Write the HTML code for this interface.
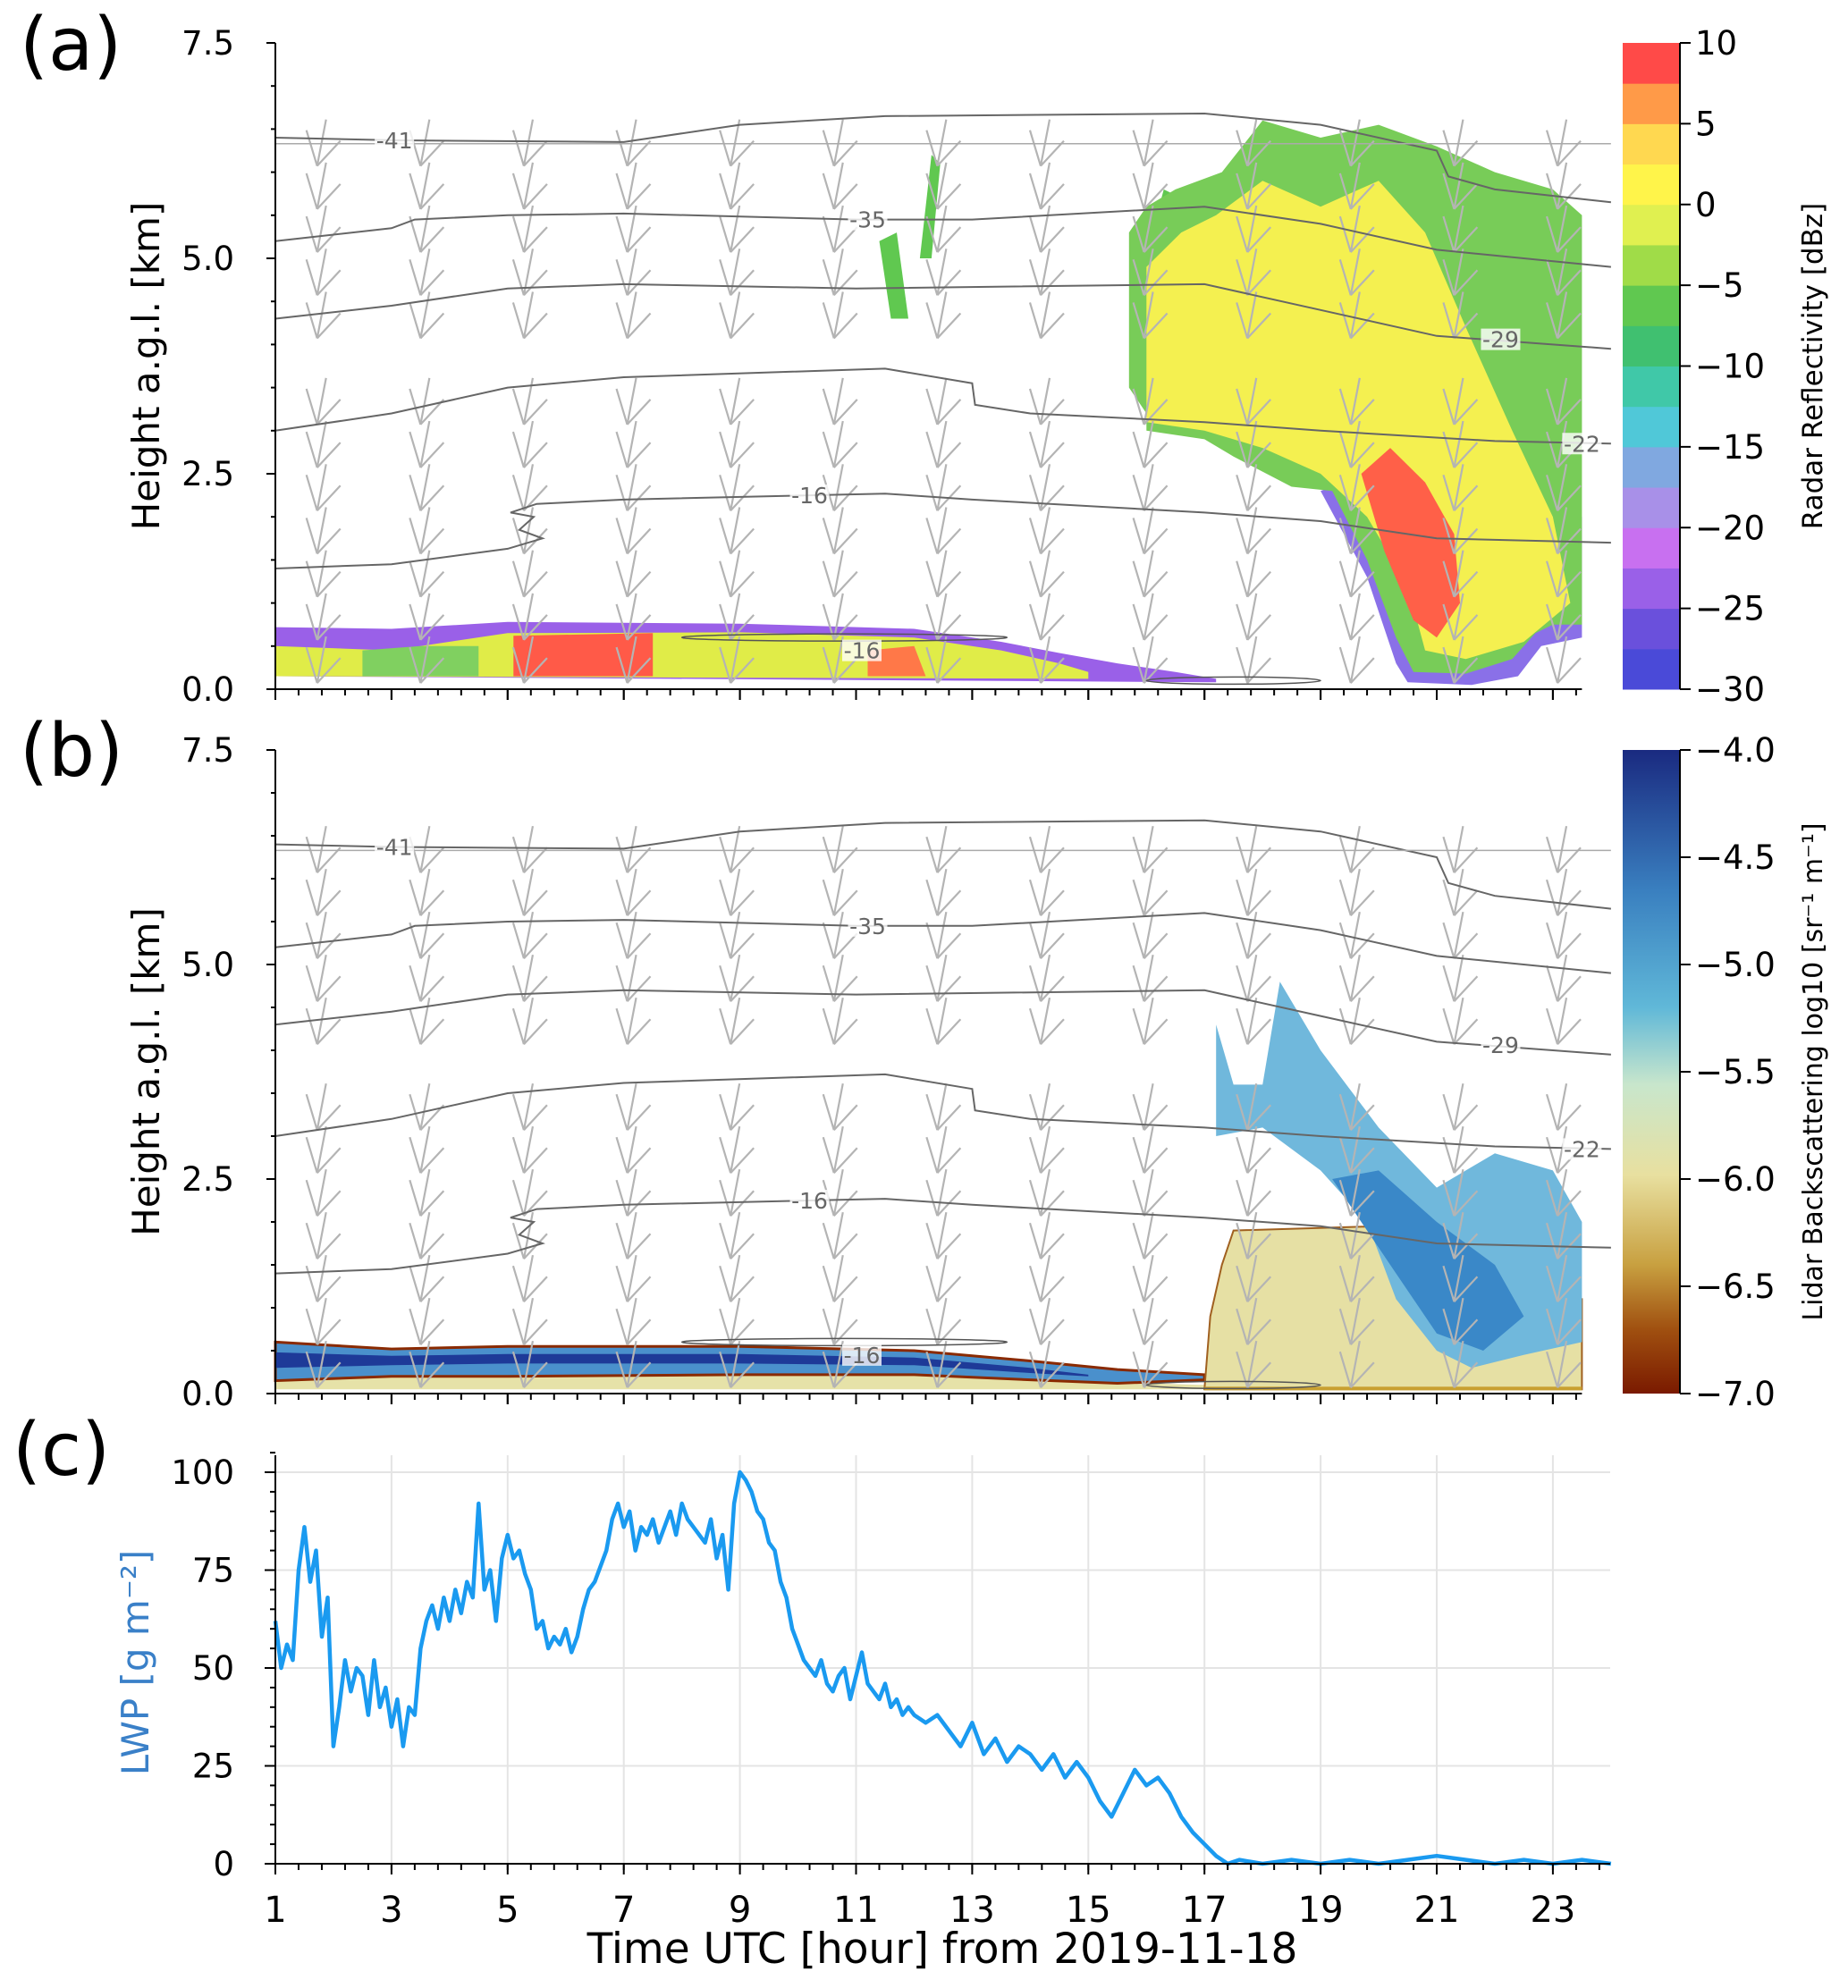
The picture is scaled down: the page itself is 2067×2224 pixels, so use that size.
<!DOCTYPE html>
<html><head><meta charset="utf-8"><style>
html,body{margin:0;padding:0;background:#fff}
svg{display:block}
text{font-family:"DejaVu Sans","Liberation Sans",sans-serif}
</style></head><body>
<svg id="fig" width="2067" height="2224" viewBox="0 0 2067 2224" xmlns="http://www.w3.org/2000/svg">
<g id="root"></g>
</svg>
<script>
// ---------- data arrays ----------
const hourTicks=[1,3,5,7,9,11,13,15,17,19,21,23];
const heightTicks=[0,2.5,5,7.5];
const dbzTicks=[10,5,0,-5,-10,-15,-20,-25,-30];
const lidarTicks=[-4.0,-4.5,-5.0,-5.5,-6.0,-6.5,-7.0];
const lwpTicks=[0,25,50,75,100];
const dbzBandColors=['#4a4ad8','#6a50dc','#9a60e8','#c870f0','#a890e8','#80a8e0','#50c8d8','#40c8a8','#40c070','#60c850','#a0dc48','#e0f050','#fff44a','#ffd850','#ff9a48','#ff4a48'];
const lwpHours=[1.0,1.1,1.2,1.3,1.4,1.5,1.6,1.7,1.8,1.9,2.0,2.1,2.2,2.3,2.4,2.5,2.6,2.7,2.8,2.9,3.0,3.1,3.2,3.3,3.4,3.5,3.6,3.7,3.8,3.9,4.0,4.1,4.2,4.3,4.4,4.5,4.6,4.7,4.8,4.9,5.0,5.1,5.2,5.3,5.4,5.5,5.6,5.7,5.8,5.9,6.0,6.1,6.2,6.3,6.4,6.5,6.6,6.7,6.8,6.9,7.0,7.1,7.2,7.3,7.4,7.5,7.6,7.7,7.8,7.9,8.0,8.1,8.2,8.3,8.4,8.5,8.6,8.7,8.8,8.9,9.0,9.1,9.2,9.3,9.4,9.5,9.6,9.7,9.8,9.9,10.0,10.1,10.2,10.3,10.4,10.5,10.6,10.7,10.8,10.9,11.0,11.1,11.2,11.3,11.4,11.5,11.6,11.7,11.8,11.9,12.0,12.2,12.4,12.6,12.8,13.0,13.2,13.4,13.6,13.8,14.0,14.2,14.4,14.6,14.8,15.0,15.2,15.4,15.6,15.8,16.0,16.2,16.4,16.6,16.8,17.0,17.2,17.4,17.6,18.0,18.5,19.0,19.5,20.0,20.5,21.0,21.5,22.0,22.5,23.0,23.5,24.0];
const lwpValues=[62,50,56,52,75,86,72,80,58,68,30,40,52,44,50,48,38,52,40,45,35,42,30,40,38,55,62,66,60,68,62,70,64,72,68,92,70,75,62,78,84,78,80,74,70,60,62,55,58,56,60,54,58,65,70,72,76,80,88,92,86,90,80,86,84,88,82,86,90,84,92,88,86,84,82,88,78,84,70,92,100,98,95,90,88,82,80,72,68,60,56,52,50,48,52,46,44,48,50,42,48,54,46,44,42,46,40,42,38,40,38,36,38,34,30,36,28,32,26,30,28,24,28,22,26,22,16,12,18,24,20,22,18,12,8,5,2,0,1,0,1,0,1,0,1,2,1,0,1,0,1,0];
// isotherm contours (hour, km)
const iso41=[[1,6.4],[3,6.37],[7,6.35],[9,6.55],[11.5,6.65],[17,6.68],[19,6.55],[21,6.25],[21.2,5.95],[22,5.8],[24,5.65]];
const iso35=[[1,5.2],[3,5.35],[3.4,5.45],[5,5.5],[7,5.52],[11,5.45],[13,5.45],[17,5.6],[19,5.4],[21,5.1],[24,4.9]];
const iso29=[[1,4.3],[3,4.45],[5,4.65],[7,4.7],[11,4.65],[17,4.7],[19,4.4],[21,4.1],[24,3.95]];
const iso22=[[1,3.0],[3,3.2],[5,3.5],[7,3.62],[11.5,3.72],[13,3.55],[13.05,3.3],[14,3.2],[17,3.1],[19,3.0],[22,2.88],[24,2.85]];
const iso16=[[1,1.4],[3,1.45],[5,1.63],[5.6,1.75],[5.2,1.85],[5.45,2.0],[5.05,2.05],[5.5,2.15],[7,2.2],[11.5,2.27],[13,2.2],[17,2.05],[19,1.95],[21,1.75],[24,1.7]];
// radar reflectivity regions (hour, km)
const radarLowFringe=[[1,0.15],[1,0.72],[3,0.7],[5,0.78],[9,0.76],[12,0.7],[13.5,0.55],[14.5,0.42],[15.5,0.3],[16.5,0.2],[17.2,0.12],[17.2,0.08]];
const radarLowYellow=[[1,0.15],[1,0.5],[3,0.45],[5,0.65],[9,0.66],[12,0.6],[13.5,0.45],[14.5,0.3],[15,0.2],[15,0.12]];
const radarLowGreen=[[2.5,0.15],[2.5,0.45],[3.5,0.5],[4.5,0.5],[4.5,0.15]];
const radarLowRed1=[[5.1,0.15],[5.1,0.62],[7.5,0.65],[7.5,0.15]];
const radarLowRed2=[[11.2,0.15],[11.2,0.45],[12,0.5],[12.2,0.15]];
const radarStormFringe=[[19,2.3],[19.8,1.3],[20.3,0.3],[20.5,0.08],[21.6,0.05],[22.4,0.15],[22.8,0.5],[23.5,0.6],[23.5,2],[21,2.8]];
const radarStormGreen=[[15.7,3.5],[15.7,5.3],[16,5.6],[16.5,5.8],[17.3,6.0],[18,6.6],[19,6.4],[20,6.55],[21,6.3],[22,6.0],[23,5.8],[23.5,5.5],[23.5,0.75],[23,0.75],[22.7,0.65],[22.3,0.35],[21.5,0.18],[20.6,0.2],[20.3,0.6],[19.8,1.5],[19.2,2.3],[18.5,2.35],[17.5,2.7],[17,2.9],[16,3.0],[16,3.2]];
const radarStormYellow=[[16.0,3.1],[16.0,4.9],[16.6,5.3],[17.2,5.5],[18,5.9],[19,5.6],[20,5.9],[20.8,5.3],[21.5,4.2],[22.3,3.0],[23,2.0],[23.3,1.0],[22.5,0.55],[21.5,0.35],[20.8,0.45],[20.5,1.2],[19.8,2.0],[19,2.5],[18,2.8],[17,3.0]];
const radarStormRed=[[19.7,2.5],[20.2,2.8],[20.8,2.4],[21.3,1.8],[21.4,1.0],[21.0,0.6],[20.6,0.8],[20.1,1.6]];
const radarStreaks=[[[11.6,4.3],[11.4,5.2],[11.7,5.3],[11.9,4.3]],[[12.1,5.0],[12.3,6.2],[12.45,6.1],[12.3,5.0]],[[15.9,4.8],[16.3,5.8],[16.6,5.7],[16.2,4.8]]];
// lidar regions
const lidarBase=[[1,0.05],[1,0.28],[8,0.25],[14,0.2],[16,0.12],[17,0.1],[17,0.05]];
const lidarBand=[[1,0.15],[1,0.6],[3,0.52],[5,0.55],[9,0.55],[12,0.5],[14,0.38],[15.5,0.28],[17,0.22],[17,0.16],[15.5,0.12],[14,0.16],[12,0.22],[9,0.22],[5,0.2],[3,0.2]];
const lidarBandDark=[[1,0.3],[1,0.48],[3,0.44],[5,0.46],[9,0.46],[12,0.42],[14,0.3],[15,0.22],[15,0.2],[14,0.24],[12,0.33],[9,0.35],[5,0.35],[3,0.33]];
const lidarBlock=[[17,0.05],[17.1,0.9],[17.3,1.5],[17.5,1.9],[20,1.95],[20.3,1.3],[21,1.1],[23.5,1.1],[23.5,0.05]];
const lidarPlume=[[17.2,3.0],[17.2,4.3],[17.5,3.6],[18,3.6],[18.3,4.8],[19,4.0],[20,3.1],[21,2.4],[22,2.8],[23,2.6],[23.5,2.0],[23.5,0.6],[22.5,0.45],[21.6,0.3],[21,0.5],[20.3,1.1],[19.8,2.0],[19,2.6],[18,3.1]];
const lidarCore=[[19.2,2.5],[20,2.6],[21,2.0],[22,1.5],[22.5,0.9],[21.8,0.5],[21,0.7],[20.3,1.4],[19.6,2.1]];
// wind barbs
const barbHours=[1.75,3.53,5.31,7.09,8.87,10.65,12.43,14.21,15.99,17.77,19.55,21.33,23.11];
const barbHeights=[0.3,0.8,1.3,1.8,2.3,2.8,3.3,4.3,4.8,5.3,5.8,6.3];

// ---------- helpers ----------
const NS='http://www.w3.org/2000/svg';
const root=document.getElementById('root');
function mk(tag,attrs,parent){const e=document.createElementNS(NS,tag);for(const k in attrs)e.setAttribute(k,attrs[k]);(parent||root).appendChild(e);return e;}
const X0=308,PXH=64.95;
function xh(h){return X0+(h-1)*PXH;}
function panel(top,bottom){return function(km){return bottom-(km/7.5)*(bottom-top);};}
const yA=panel(48,771), yB=panel(839,1559);
const yC=function(v){return 2085-v*4.38;};
function poly(pts,yf){return pts.map(p=>xh(p[0]).toFixed(1)+','+yf(p[1]).toFixed(1)).join(' ');}

function drawHeightAxis(g,yf,top,bottom){
  mk('line',{x1:X0,y1:top,x2:X0,y2:bottom,stroke:'#000','stroke-width':2},g);
  mk('line',{x1:X0,y1:bottom,x2:xh(23.5),y2:bottom,stroke:'#000','stroke-width':2},g);
  for(let k=0;k<=15;k++){const v=k*0.5;const y=yf(v);const maj=(k%5===0);
    mk('line',{x1:X0-(maj?10:5),y1:y,x2:X0,y2:y,stroke:'#000','stroke-width':2},g);}
  heightTicks.forEach(v=>{const t=mk('text',{x:262,y:yf(v)+13,'font-size':37,'text-anchor':'end'},g);t.textContent=v.toFixed(1);
    
    });
  for(let h=1;h<=23.5;h+=0.4){const maj=Math.abs((h-1)/2-Math.round((h-1)/2))<0.01;
    mk('line',{x1:xh(h),y1:bottom,x2:xh(h),y2:bottom+(maj?12:7),stroke:'#000','stroke-width':2},g);}
  hourTicks.forEach(h=>mk('line',{x1:xh(h),y1:bottom,x2:xh(h),y2:bottom+12,stroke:'#000','stroke-width':2},g));
}
function drawBarbs(g,yf){
  barbHours.forEach(h=>barbHeights.forEach(k=>{const x=xh(h),y=yf(k);
    const b=mk('path',{d:`M${x+8},${y-30} L${x-2},${y+22} M${x-2},${y+22} L${x+24},${y-6} M${x-2},${y+22} L${x-14},${y-18}`,stroke:'#b4b4b4','stroke-width':2.2,fill:'none'},g);
    
    }));
}
function drawIsotherms(g,yf){
  [iso41,iso35,iso29,iso22,iso16].forEach(arr=>{
    const p=mk('polyline',{points:poly(arr.map(q=>[Math.min(q[0],24.0),q[1]]),yf),fill:'none',stroke:'#666','stroke-width':2},g);
    
    });
  mk('line',{x1:X0,y1:yf(6.33),x2:xh(24),y2:yf(6.33),stroke:'#aaa','stroke-width':1.5},g);
  mk('ellipse',{cx:xh(10.8),cy:yf(0.6),rx:PXH*2.8,ry:4,fill:'none',stroke:'#555','stroke-width':1.5},g);
  mk('ellipse',{cx:xh(17.5),cy:yf(0.1),rx:PXH*1.5,ry:4,fill:'none',stroke:'#555','stroke-width':1.5},g);
  const labs=[['-41',3.05,6.37],['-35',11.2,5.45],['-29',22.1,4.06],['-22',23.5,2.85],['-16',10.2,2.25],['-16',11.1,0.45]];
  labs.forEach(l=>{const x=xh(l[1]),y=yf(l[2]);
    mk('rect',{x:x-22,y:y-12,width:44,height:24,fill:'#fff','fill-opacity':0.8},g);
    const t=mk('text',{x:x,y:y+9,'font-size':25,fill:'#666','text-anchor':'middle'},g);t.textContent=l[0];
    
    });
}

// ---------- panel a ----------
const ga=mk('g',{});
function fillPoly(g,pts,yf,col,name){const p=mk('polygon',{points:poly(pts,yf),fill:col},g);
  
  return p;}
fillPoly(ga,radarLowFringe,yA,'#9a60e8','radar-low-fringe');
fillPoly(ga,radarLowYellow,yA,'#e0ec48','radar-low-core');
fillPoly(ga,radarLowGreen,yA,'#80d060','radar-low-green');
fillPoly(ga,radarLowRed1,yA,'#ff5a48','radar-low-red');
fillPoly(ga,radarLowRed2,yA,'#ff7848','radar-low-red');
radarStreaks.forEach(s=>fillPoly(ga,s,yA,'#60c850','radar-streak'));
fillPoly(ga,radarStormFringe,yA,'#8a70e8','radar-storm-fringe');
fillPoly(ga,radarStormGreen,yA,'#78cc58','radar-storm-outer');
fillPoly(ga,radarStormYellow,yA,'#f4f050','radar-storm-inner');
fillPoly(ga,radarStormRed,yA,'#ff6048','radar-storm-core');
drawBarbs(ga,yA);drawIsotherms(ga,yA);drawHeightAxis(ga,yA,48,771);
{const t=mk('text',{x:22,y:78,'font-size':82},ga);t.textContent='(a)';}
{const t=mk('text',{x:0,y:0,'font-size':42,'text-anchor':'middle',transform:`translate(178,${(48+771)/2}) rotate(-90)`},ga);t.textContent='Height a.g.l. [km]';}
// colorbar a
{const cb=mk('g',{});
 const bh=(771-48)/16;
 dbzBandColors.forEach((c,i)=>mk('rect',{x:1815,y:771-(i+1)*bh,width:64,height:bh+0.5,fill:c},cb));
 mk('line',{x1:1879,y1:48,x2:1879,y2:771,stroke:'#000','stroke-width':2},cb);
 dbzTicks.forEach(v=>{const y=771-(v+30)/40*(771-48);mk('line',{x1:1879,y1:y,x2:1891,y2:y,stroke:'#000','stroke-width':2},cb);
   const t=mk('text',{x:1896,y:y+13,'font-size':37},cb);t.textContent=(v<0?'\u2212':'')+Math.abs(v);});
 const t=mk('text',{x:0,y:0,'font-size':31,'text-anchor':'middle',transform:`translate(2038,${(48+771)/2}) rotate(-90)`},cb);t.textContent='Radar Reflectivity [dBz]';
 }

// ---------- panel b ----------
const gb=mk('g',{});
fillPoly(gb,lidarBase,yB,'#e6e2a8','lidar-base');
{const p=fillPoly(gb,lidarBand,yB,'#4a90cc','lidar-layer');p.setAttribute('stroke','#8a2a00');p.setAttribute('stroke-width','3');}
fillPoly(gb,lidarBandDark,yB,'#1e3a98','lidar-layer-core');
{const p=fillPoly(gb,lidarBlock,yB,'#e6e0a4','lidar-precip-block');p.setAttribute('stroke','#a06020');p.setAttribute('stroke-width','2');}
fillPoly(gb,lidarPlume,yB,'#70b8dc','lidar-plume');
fillPoly(gb,lidarCore,yB,'#3a88c8','lidar-plume-core');
mk('rect',{x:xh(17),y:yB(0.08),width:xh(23.5)-xh(17),height:4,fill:'#c8a030'},gb);
drawBarbs(gb,yB);drawIsotherms(gb,yB);drawHeightAxis(gb,yB,839,1559);
{const t=mk('text',{x:22,y:868,'font-size':82},gb);t.textContent='(b)';}
{const t=mk('text',{x:0,y:0,'font-size':42,'text-anchor':'middle',transform:`translate(178,${(839+1559)/2}) rotate(-90)`},gb);t.textContent='Height a.g.l. [km]';}
{const cb=mk('g',{});
 const defs=mk('defs',{},cb);const lg=mk('linearGradient',{id:'lg',x1:0,y1:0,x2:0,y2:1},defs);
 [['0','#1a2a80'],['0.22','#3a80c0'],['0.4','#60b8d8'],['0.52','#c8e6cc'],['0.66','#e8e0a0'],['0.8','#c8a040'],['0.9','#a05010'],['1','#7a1a00']].forEach(s=>mk('stop',{offset:s[0],'stop-color':s[1]},lg));
 mk('rect',{x:1815,y:839,width:64,height:720,fill:'url(#lg)'},cb);
 mk('line',{x1:1879,y1:839,x2:1879,y2:1559,stroke:'#000','stroke-width':2},cb);
 lidarTicks.forEach(v=>{const y=839+(-4-v)/3*720;mk('line',{x1:1879,y1:y,x2:1891,y2:y,stroke:'#000','stroke-width':2},cb);
   const t=mk('text',{x:1896,y:y+13,'font-size':37},cb);t.textContent='\u2212'+Math.abs(v).toFixed(1);});
 const t=mk('text',{x:0,y:0,'font-size':30,'text-anchor':'middle',transform:`translate(2038,${(839+1559)/2}) rotate(-90)`},cb);t.textContent='Lidar Backscattering log10 [sr\u207B\u00B9 m\u207B\u00B9]';
 }

// ---------- panel c ----------
const gc=mk('g',{});
lwpTicks.forEach(v=>{mk('line',{x1:X0,y1:yC(v),x2:1801,y2:yC(v),stroke:'#e4e4e4','stroke-width':2},gc);});
hourTicks.forEach(h=>mk('line',{x1:xh(h),y1:1628,x2:xh(h),y2:2085,stroke:'#e4e4e4','stroke-width':2},gc));
{const p=mk('polyline',{points:lwpHours.map((h,i)=>xh(h).toFixed(1)+','+yC(lwpValues[i]).toFixed(1)).join(' '),fill:'none',stroke:'#1a9af0','stroke-width':4.5,'stroke-linejoin':'round'},gc);
 }
mk('line',{x1:X0,y1:1628,x2:X0,y2:2085,stroke:'#000','stroke-width':2},gc);
mk('line',{x1:X0,y1:2085,x2:1801,y2:2085,stroke:'#000','stroke-width':2},gc);
for(let v=0;v<=105;v+=5){const maj=v%25===0;mk('line',{x1:X0-(maj?12:6),y1:yC(v),x2:X0,y2:yC(v),stroke:'#000','stroke-width':2},gc);}
lwpTicks.forEach(v=>{const t=mk('text',{x:262,y:yC(v)+13,'font-size':37,'text-anchor':'end'},gc);t.textContent=v;
  });
for(let h=1;h<=24;h+=0.4){mk('line',{x1:xh(h),y1:2085,x2:xh(h),y2:2092,stroke:'#000','stroke-width':2},gc);}
hourTicks.forEach(h=>{mk('line',{x1:xh(h),y1:2085,x2:xh(h),y2:2097,stroke:'#000','stroke-width':2},gc);
  const t=mk('text',{x:xh(h),y:2150,'font-size':40,'text-anchor':'middle'},gc);t.textContent=h;
  });
{const t=mk('text',{x:1054,y:2196,'font-size':47,'text-anchor':'middle'},gc);t.textContent='Time UTC [hour] from 2019-11-18';}
{const t=mk('text',{x:14,y:1650,'font-size':82},gc);t.textContent='(c)';}
{const t=mk('text',{x:0,y:0,'font-size':42,fill:'#3a80c8','text-anchor':'middle',transform:`translate(166,1860) rotate(-90)`},gc);t.textContent='LWP [g m\u207B\u00B2]';}
</script>
</body></html>
